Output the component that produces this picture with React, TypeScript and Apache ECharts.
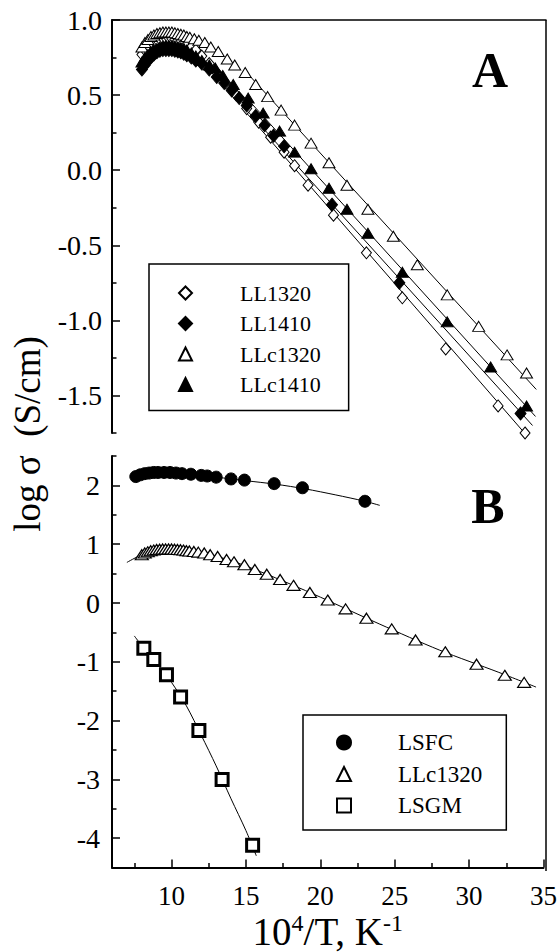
import React, { useEffect, useRef } from "react";
import * as echarts from "echarts";

// ---- Panel A: log σ (S/cm) against 10^4/T (K^-1) ----
const ll1320X = [8.0, 8.2, 8.4, 8.6, 8.8, 9.0, 9.2, 9.4, 9.6, 9.8, 10.0, 10.2, 10.4, 10.6, 10.8, 11.0, 11.3, 11.6, 12.0, 12.5, 13.0, 13.6, 14.3, 15.0, 15.8, 16.6, 17.5, 18.2, 19.1, 20.8, 23.0, 25.4, 28.3, 31.8, 33.6];
const ll1320Y = [0.77, 0.8, 0.83, 0.85, 0.86, 0.87, 0.875, 0.88, 0.88, 0.88, 0.875, 0.87, 0.865, 0.86, 0.85, 0.84, 0.82, 0.8, 0.76, 0.71, 0.65, 0.58, 0.5, 0.41, 0.32, 0.22, 0.12, 0.03, -0.1, -0.3, -0.55, -0.85, -1.19, -1.57, -1.75];

const ll1410X = [8.0, 8.2, 8.4, 8.6, 8.8, 9.0, 9.2, 9.4, 9.6, 9.8, 10.0, 10.2, 10.4, 10.6, 10.8, 11.0, 11.3, 11.6, 12.0, 12.5, 13.0, 13.5, 14.0, 14.5, 15.0, 15.6, 16.2, 16.8, 17.5, 20.7, 25.2, 33.3];
const ll1410Y = [0.67, 0.7, 0.73, 0.75, 0.77, 0.785, 0.795, 0.8, 0.8, 0.8, 0.8, 0.795, 0.79, 0.785, 0.775, 0.765, 0.75, 0.73, 0.71, 0.67, 0.62, 0.58, 0.53, 0.48, 0.43, 0.36, 0.3, 0.23, 0.16, -0.23, -0.75, -1.62];

const llc1320X = [8.0, 8.2, 8.4, 8.6, 8.8, 9.0, 9.2, 9.4, 9.6, 9.8, 10.0, 10.2, 10.4, 10.6, 10.8, 11.0, 11.2, 11.5, 11.8, 12.2, 12.6, 13.1, 13.7, 14.2, 14.9, 15.6, 16.4, 17.3, 18.2, 19.3, 20.5, 21.7, 23.1, 24.8, 26.4, 28.4, 30.5, 32.4, 33.7];
const llc1320Y = [0.82, 0.85, 0.87, 0.89, 0.9, 0.91, 0.915, 0.92, 0.92, 0.92, 0.92, 0.915, 0.91, 0.905, 0.9, 0.89, 0.885, 0.875, 0.865, 0.85, 0.82, 0.79, 0.74, 0.7, 0.65, 0.57, 0.49, 0.4, 0.3, 0.18, 0.05, -0.1, -0.26, -0.44, -0.63, -0.83, -1.04, -1.23, -1.35];

const llc1410X = [8.0, 8.2, 8.4, 8.6, 8.8, 9.0, 9.2, 9.4, 9.6, 9.8, 10.0, 10.2, 10.4, 10.6, 10.8, 11.0, 11.3, 11.6, 12.0, 12.5, 12.9, 13.4, 14.1, 15.1, 16.1, 17.2, 18.2, 19.3, 20.5, 21.7, 23.1, 25.4, 28.4, 31.3, 33.7];
const llc1410Y = [0.72, 0.75, 0.77, 0.79, 0.8, 0.81, 0.82, 0.825, 0.83, 0.83, 0.83, 0.825, 0.82, 0.815, 0.81, 0.8, 0.78, 0.76, 0.73, 0.7, 0.68, 0.63, 0.57, 0.48, 0.38, 0.26, 0.12, 0.01, -0.12, -0.26, -0.42, -0.68, -1.01, -1.31, -1.57];

// Arrhenius fit lines of panel A
const fitLL1320X = [15.0, 34.0];
const fitLL1320Y = [0.38, -1.8];
const fitLL1410X = [15.0, 34.1];
const fitLL1410Y = [0.4, -1.7];
const fitLLc1320X = [15.0, 34.35];
const fitLLc1320Y = [0.65, -1.46];
const fitLLc1410X = [15.0, 34.3];
const fitLLc1410Y = [0.48, -1.64];

// ---- Panel B ----
const lsfcX = [7.6, 7.9, 8.2, 8.5, 8.8, 9.1, 9.5, 9.9, 10.3, 10.7, 11.3, 12.0, 12.4, 13.0, 14.0, 14.9, 16.9, 18.8, 23.0];
const lsfcY = [2.15, 2.18, 2.2, 2.21, 2.22, 2.22, 2.22, 2.22, 2.21, 2.2, 2.19, 2.17, 2.16, 2.14, 2.11, 2.09, 2.03, 1.96, 1.73];
const fitLsfcX = [7.5, 9.0, 11.0, 13.0, 15.0, 17.0, 19.0, 21.0, 23.0, 24.0];
const fitLsfcY = [2.15, 2.21, 2.19, 2.14, 2.08, 2.02, 1.94, 1.84, 1.73, 1.66];

const fitLlc1320BX = [7.0, 8.0, 9.0, 10.0, 11.0, 12.0, 14.0, 16.0, 18.0, 20.0, 24.0, 28.0, 32.0, 34.5];
const fitLlc1320BY = [0.69, 0.82, 0.89, 0.92, 0.9, 0.86, 0.72, 0.53, 0.32, 0.1, -0.36, -0.8, -1.18, -1.43];

const lsgmX = [8.14, 8.81, 9.66, 10.61, 11.84, 13.4, 15.45];
const lsgmY = [-0.77, -0.96, -1.22, -1.6, -2.17, -3.0, -4.12];
const fitLsgmX = [7.5, 8.14, 9.0, 10.0, 11.0, 12.0, 13.0, 14.0, 15.0, 15.7];
const fitLsgmY = [-0.56, -0.77, -1.02, -1.35, -1.75, -2.25, -2.77, -3.33, -3.87, -4.3];

// ---- Axis ticks ----
const xTicks = [10, 15, 20, 25, 30, 35];
const xMinorTicks = [7.5, 12.5, 17.5, 22.5, 27.5, 32.5];
const aTicks = [-1.5, -1.0, -0.5, 0.0, 0.5, 1.0];
const aMinorTicks = [-1.75, -1.25, -0.75, -0.25, 0.25, 0.75];
const bTicks = [-4, -3, -2, -1, 0, 1, 2];
const bMinorTicks = [-4.5, -3.5, -2.5, -1.5, -0.5, 0.5, 1.5, 2.5];

const legendA = ["LL1320", "LL1410", "LLc1320", "LLc1410"];
const legendB = ["LSFC", "LLc1320", "LSGM"];

const SERIF = "Liberation Serif, DejaVu Serif, serif";
const W = 560;
const H = 952;
const LEFT = 112;
const RIGHT = 546;
const A_TOP = 20;
const A_BOTTOM = 433;
const B_TOP = 456;
const B_BOTTOM = 871;

const zip = (xs: number[], ys: number[]) => xs.map((x, i) => [x, ys[i]]);

const black = "#000";

function scatter(name: string, xs: number[], ys: number[], panel: 0 | 1, symbol: string, size: any, filled: boolean, borderWidth = 1) {
  return {
    type: "scatter",
    name,
    xAxisIndex: panel === 0 ? 0 : 1,
    yAxisIndex: panel === 0 ? 0 : 2,
    data: zip(xs, ys),
    symbol,
    symbolSize: size,
    itemStyle: { color: filled ? black : "#fff", borderColor: black, borderWidth, opacity: 1 },
    z: 3,
    silent: true,
  };
}

function fit(name: string, xs: number[], ys: number[], panel: 0 | 1, smooth = false) {
  return {
    type: "line",
    name,
    xAxisIndex: panel === 0 ? 0 : 1,
    yAxisIndex: panel === 0 ? 0 : 2,
    data: zip(xs, ys),
    showSymbol: false,
    symbol: "none",
    smooth: smooth ? 0.3 : false,
    lineStyle: { color: black, width: 1 },
    z: 2,
    silent: true,
  };
}

const tickStyle = { color: black, width: 1.5 };
const labelFont = { color: black, fontSize: 28, fontFamily: SERIF };

export default function App() {
  const ref = useRef<HTMLDivElement>(null);

  useEffect(() => {
    document.body.style.margin = "0";
    if (!ref.current) return;
    const chart = echarts.init(ref.current, null, { renderer: "svg" });

    const option: any = {
      animation: false,
      backgroundColor: "#fff",
      grid: [
        { left: LEFT, top: A_TOP, width: RIGHT - LEFT, height: A_BOTTOM - A_TOP },
        { left: LEFT, top: B_TOP, width: RIGHT - LEFT, height: B_BOTTOM - B_TOP },
      ],
      xAxis: [
        {
          gridIndex: 0, type: "value", position: "top", min: 6, max: 35,
          axisLine: { onZero: false, lineStyle: { color: black, width: 1.5 } },
          axisTick: { show: false }, axisLabel: { show: false }, splitLine: { show: false },
        },
        {
          gridIndex: 1, type: "value", position: "bottom", min: 6, max: 35,
          axisLine: { onZero: false, lineStyle: { color: black, width: 2 } },
          axisTick: { inside: true, length: 8, customValues: xTicks, lineStyle: tickStyle },
          axisLabel: { customValues: xTicks, margin: 15, ...labelFont, fontSize: 27 },
          splitLine: { show: false },
          name: "{n|10}{s|4}{n|/T, K}{s|-1}",
          nameLocation: "middle",
          nameGap: 39,
          nameTextStyle: {
            rich: {
              n: { fontSize: 39, fontFamily: SERIF, color: black, lineHeight: 42 },
              s: { fontSize: 24, fontFamily: SERIF, color: black, lineHeight: 24, verticalAlign: "top" },
            },
          },
        },
        {
          gridIndex: 1, type: "value", position: "bottom", min: 6, max: 35,
          axisLine: { show: false, onZero: false },
          axisTick: { inside: true, length: 4.5, customValues: xMinorTicks, lineStyle: tickStyle },
          axisLabel: { show: false }, splitLine: { show: false },
        },
      ],
      yAxis: [
        {
          gridIndex: 0, type: "value", position: "left", min: -1.75, max: 1.0,
          axisLine: { onZero: false, lineStyle: { color: black, width: 2 } },
          axisTick: { inside: true, length: 8, customValues: aTicks, lineStyle: tickStyle },
          axisLabel: {
            customValues: aTicks, margin: 10, ...labelFont,
            formatter: (v: number) => Number(v).toFixed(1),
          },
          splitLine: { show: false },
        },
        {
          gridIndex: 0, type: "value", position: "left", min: -1.75, max: 1.0,
          axisLine: { show: false, onZero: false },
          axisTick: { inside: true, length: 4.5, customValues: aMinorTicks, lineStyle: tickStyle },
          axisLabel: { show: false }, splitLine: { show: false },
        },
        {
          gridIndex: 1, type: "value", position: "left", min: -4.5, max: 2.5,
          axisLine: { onZero: false, lineStyle: { color: black, width: 2 } },
          axisTick: { inside: true, length: 8, customValues: bTicks, lineStyle: tickStyle },
          axisLabel: {
            customValues: bTicks, margin: 12, ...labelFont,
            formatter: (v: number) => String(Math.round(Number(v))),
          },
          splitLine: { show: false },
        },
        {
          gridIndex: 1, type: "value", position: "left", min: -4.5, max: 2.5,
          axisLine: { show: false, onZero: false },
          axisTick: { inside: true, length: 4.5, customValues: bMinorTicks, lineStyle: tickStyle },
          axisLabel: { show: false }, splitLine: { show: false },
        },
      ],
      legend: [
        {
          data: legendA, orient: "vertical", left: 149, top: 264,
          padding: [18, 28, 15, 29], itemWidth: 13, itemHeight: 13, itemGap: 8.5,
          borderColor: black, borderWidth: 1.5, selectedMode: false,
          textStyle: { color: black, fontSize: 22, fontFamily: SERIF, lineHeight: 22, padding: [0, 0, 0, 43] },
        },
        {
          data: legendB, orient: "vertical", left: 303, top: 715,
          padding: [16, 24, 13, 33], itemWidth: 14, itemHeight: 14, itemGap: 8.5,
          borderColor: black, borderWidth: 1.5, selectedMode: false,
          textStyle: { color: black, fontSize: 23, fontFamily: SERIF, lineHeight: 23, padding: [0, 0, 0, 42] },
        },
      ],
      graphic: [
        {
          type: "line", z: 10, silent: true,
          shape: { x1: RIGHT, y1: A_TOP, x2: RIGHT, y2: B_BOTTOM },
          style: { stroke: black, lineWidth: 1.5 },
        },
        {
          type: "text", z: 10, silent: true, x: 27, y: 434, rotation: Math.PI / 2,
          style: {
            text: "log σ  (S/cm)", fill: black, font: `37px ${SERIF}`,
            textAlign: "center", textVerticalAlign: "middle", align: "center", verticalAlign: "middle",
          },
        },
        {
          type: "text", z: 10, silent: true, x: 490, y: 70,
          style: {
            text: "A", fill: black, font: `bold 50px ${SERIF}`,
            textAlign: "center", textVerticalAlign: "middle", align: "center", verticalAlign: "middle",
          },
        },
        {
          type: "text", z: 10, silent: true, x: 488, y: 506,
          style: {
            text: "B", fill: black, font: `bold 50px ${SERIF}`,
            textAlign: "center", textVerticalAlign: "middle", align: "center", verticalAlign: "middle",
          },
        },
      ],
      series: [
        fit("LL1320 fit", fitLL1320X, fitLL1320Y, 0),
        fit("LL1410 fit", fitLL1410X, fitLL1410Y, 0),
        fit("LLc1320 fit", fitLLc1320X, fitLLc1320Y, 0),
        fit("LLc1410 fit", fitLLc1410X, fitLLc1410Y, 0),
        scatter("LL1320", ll1320X, ll1320Y, 0, "diamond", [10, 12], false),
        scatter("LLc1320", llc1320X, llc1320Y, 0, "triangle", [12, 10], false),
        scatter("LL1410", ll1410X, ll1410Y, 0, "diamond", [11, 13], true),
        scatter("LLc1410", llc1410X, llc1410Y, 0, "triangle", [12, 10], true),

        fit("LSFC fit", fitLsfcX, fitLsfcY, 1, true),
        fit("LLc1320 curve", fitLlc1320BX, fitLlc1320BY, 1, true),
        fit("LSGM fit", fitLsgmX, fitLsgmY, 1, true),
        scatter("LSFC", lsfcX, lsfcY, 1, "circle", 12, true),
        scatter("LLc1320", llc1320X, llc1320Y, 1, "triangle", [13, 10], false, 1.2),
        scatter("LSGM", lsgmX, lsgmY, 1, "rect", 12, false, 3),
      ],
    };

    chart.setOption(option);
    return () => chart.dispose();
  }, []);

  return <div ref={ref} style={{ width: W, height: H }} />;
}
